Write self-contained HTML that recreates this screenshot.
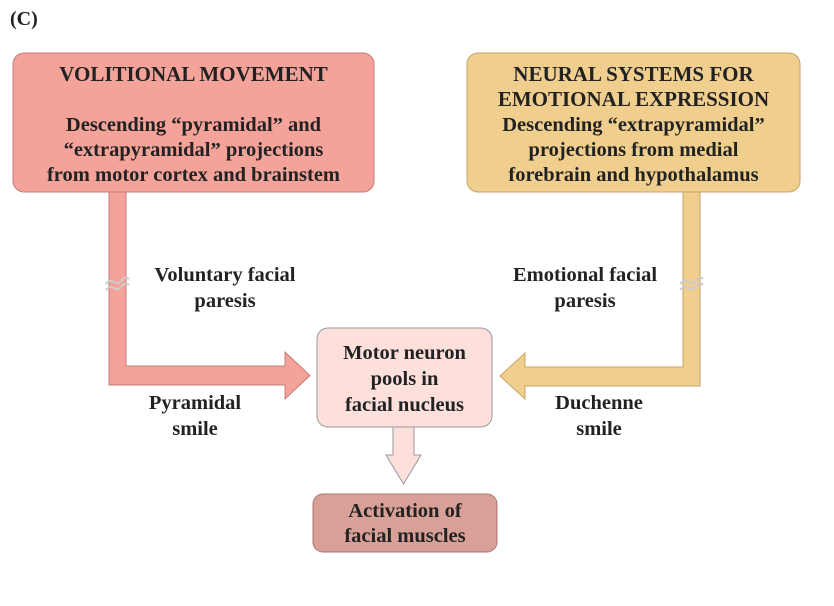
<!DOCTYPE html>
<html><head><style>
body{margin:0;width:834px;height:606px;background:#fff;overflow:hidden;position:relative;font-family:"Liberation Serif",serif;font-weight:bold;color:#222}
.t{position:absolute;text-align:center;white-space:nowrap}
</style></head><body>
<svg width="834" height="606" style="position:absolute;left:0;top:0">
<path d="M109,191 L126,191 L126,366 L285,366 L285,352 L310,375.5 L285,399 L285,385 L109,385 Z" fill="#f4a39a" stroke="#c37d74" stroke-width="1"/>
<path d="M683,191 L700,191 L700,386 L525,386 L525,399 L500,376 L525,353 L525,367 L683,367 Z" fill="#f0cf8e" stroke="#c4a466" stroke-width="1"/>
<rect x="13" y="53" width="361" height="139" rx="11" fill="#f4a39a" stroke="#c37d74"/>
<rect x="467" y="53" width="333" height="139" rx="11" fill="#f0cf8e" stroke="#c4a466"/>
<path d="M393,427 L414,427 L414,455 L421,455 L403.5,484 L386,455 L393,455 Z" fill="#fde0dc" stroke="#999" stroke-width="1"/>
<rect x="317" y="328" width="175" height="99" rx="11" fill="#fde0dc" stroke="#999"/>
<rect x="313" y="494" width="184" height="58" rx="10" fill="#d9a098" stroke="#a9766f"/>
<path d="M106,284 q4,-5 8,-2 q4,3 8,-2 q4,-4 7,-1" stroke="#ccc" stroke-width="2" fill="none"/>
<path d="M106,290 q4,-5 8,-2 q4,3 8,-2 q4,-4 7,-1" stroke="#ccc" stroke-width="2" fill="none"/>
<path d="M680,284 q4,-5 8,-2 q4,3 8,-2 q4,-4 7,-1" stroke="#ccc" stroke-width="2" fill="none"/>
<path d="M680,290 q4,-5 8,-2 q4,3 8,-2 q4,-4 7,-1" stroke="#ccc" stroke-width="2" fill="none"/>
</svg>
<div class="t" style="left:10px;top:8px;font-size:20px">(C)</div>
<div class="t" style="left:13px;width:361px;top:61px;font-size:21px;line-height:26px">VOLITIONAL MOVEMENT</div>
<div class="t" style="left:13px;width:361px;top:113px;font-size:20.5px;line-height:25px">Descending “pyramidal” and<br>“extrapyramidal” projections<br>from motor cortex and brainstem</div>
<div class="t" style="left:467px;width:333px;top:62px;font-size:21px;line-height:25px">NEURAL SYSTEMS FOR<br>EMOTIONAL EXPRESSION</div>
<div class="t" style="left:467px;width:333px;top:113px;font-size:20.5px;line-height:25px">Descending “extrapyramidal”<br>projections from medial<br>forebrain and hypothalamus</div>
<div class="t" style="left:130px;width:190px;top:262px;font-size:20.5px;line-height:26px">Voluntary facial<br>paresis</div>
<div class="t" style="left:490px;width:190px;top:262px;font-size:20.5px;line-height:26px">Emotional facial<br>paresis</div>
<div class="t" style="left:130px;width:130px;top:390px;font-size:20.5px;line-height:26px">Pyramidal<br>smile</div>
<div class="t" style="left:534px;width:130px;top:390px;font-size:20.5px;line-height:26px">Duchenne<br>smile</div>
<div class="t" style="left:317px;width:175px;top:340px;font-size:20.5px;line-height:26px">Motor neuron<br>pools in<br>facial nucleus</div>
<div class="t" style="left:313px;width:184px;top:499px;font-size:20.5px;line-height:25px">Activation of<br>facial muscles</div>
</body></html>
